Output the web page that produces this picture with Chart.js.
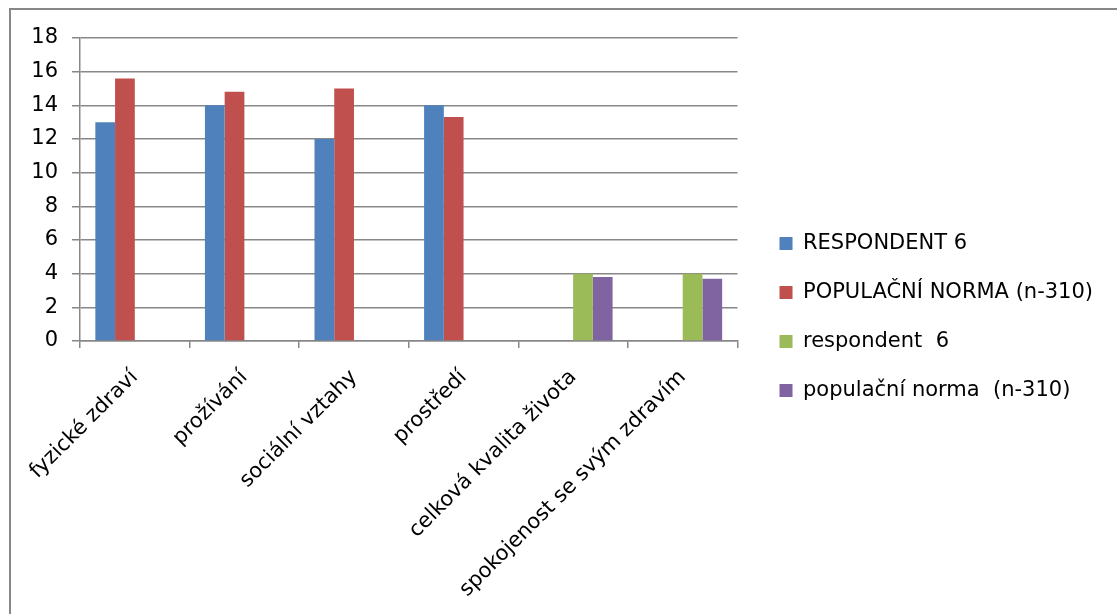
<!DOCTYPE html>
<html lang="cs">
<head>
    <meta charset="UTF-8">
    <title>Kvalita života – respondent 6</title>
    <script src="https://cdn.jsdelivr.net/npm/chart.js@4.4.0/dist/chart.umd.min.js"></script>
    <style>
        body { margin: 0; background: #fff; }
        #wrap { position: relative; width: 1117px; height: 614px; overflow: hidden; }
        #frame {
            position: absolute; left: 9px; top: 8px; width: 1200px; height: 700px;
            border-top: 2px solid #878787; border-left: 2px solid #878787;
            pointer-events: none;
        }
    </style>
</head>
<body>
    <div id="wrap">
        <canvas id="chart" width="1117" height="614"></canvas>
        <div id="frame"></div>
    </div>

    <script>
        const categories = ['fyzické zdraví', 'prožívání', 'sociální vztahy', 'prostředí',
                            'celková kvalita života', 'spokojenost se svým zdravím'];
        const respondentDomains = [13, 14, 12, 14, null, null];
        const normDomains = [15.6, 14.8, 15, 13.3, null, null];
        const respondentItems = [null, null, null, null, 4, 4];
        const normItems = [null, null, null, null, 3.8, 3.7];
        const yTicks = [0, 2, 4, 6, 8, 10, 12, 14, 16, 18];

        const gridColor = '#878787';
        const tickFont = { family: 'DejaVu Sans', size: 21 };
        const legendFont = { family: 'DejaVu Sans', size: 21 };

        const ctx = document.getElementById('chart').getContext('2d');
        const myChart = new Chart(ctx, {
            type: 'bar',
            data: {
                labels: categories,
                datasets: [{
                    label: 'RESPONDENT 6',
                    data: respondentDomains,
                    backgroundColor: '#4F81BD'
                },
                {
                    label: 'POPULAČNÍ NORMA (n-310)',
                    data: normDomains,
                    backgroundColor: '#C0504D'
                },
                {
                    label: 'respondent  6',
                    data: respondentItems,
                    backgroundColor: '#9BBB59'
                },
                {
                    label: 'populační norma  (n-310)',
                    data: normItems,
                    backgroundColor: '#8064A2'
                }]
            },
            options: {
                responsive: false,
                animation: false,
                categoryPercentage: 0.72,
                barPercentage: 1,
                layout: { padding: { top: 38, right: 14, bottom: 18, left: 0 } },
                plugins: {
                    tooltip: { enabled: false },
                    legend: {
                        position: 'right',
                        align: 'center',
                        maxWidth: 420,
                        labels: {
                            boxWidth: 13,
                            boxHeight: 13,
                            padding: 28,
                            color: '#000',
                            font: legendFont
                        }
                    }
                },
                scales: {
                    x: {
                        grid: { drawOnChartArea: false, offset: true, color: gridColor, lineWidth: 1.5, tickLength: 7 },
                        border: { color: gridColor, width: 1.5 },
                        ticks: {
                            color: '#000', font: tickFont, autoSkip: false,
                            minRotation: 45, maxRotation: 45, padding: 17
                        },
                        afterFit(scale) { scale.height = 255; }
                    },
                    y: {
                        min: 0,
                        max: 18,
                        grid: { color: gridColor, lineWidth: 1.5, tickLength: 8 },
                        border: { color: gridColor, width: 1.5 },
                        afterBuildTicks(scale) { scale.ticks = yTicks.map(v => ({ value: v })); },
                        ticks: { color: '#000', font: tickFont, padding: 14 },
                        afterFit(scale) { scale.width = 80; }
                    },
                    // empty axis that keeps a gap between the plot and the legend
                    gap: {
                        position: 'right',
                        display: true,
                        grid: { display: false },
                        border: { display: false },
                        ticks: { display: false },
                        afterFit(scale) { scale.width = 14; }
                    }
                }
            }
        });
    </script>
</body>
</html>
